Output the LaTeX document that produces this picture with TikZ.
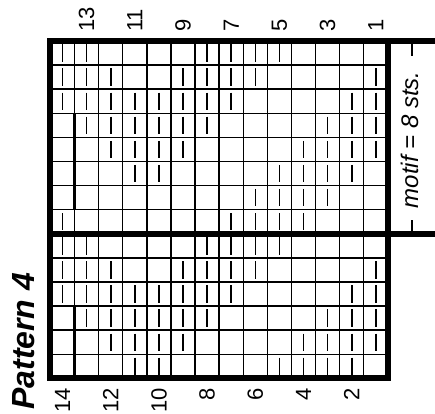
\documentclass[tikz,border=0pt]{standalone}
\usepackage{fontspec}
\setmainfont{Liberation Sans}

\begin{document}
\begin{tikzpicture}[x=24.1pt, y=-24.1pt,
  gridline/.style={draw=black, line width=1.4 },
  framebox/.style={draw=black, line width=6, line join=miter },
  heavyline/.style={draw=black, line width=5.5 },
  edgeline/.style={draw=black, line width=2.6 },
  purlmark/.style={draw=black, line width=1.6 },
  bracketline/.style={draw=black, line width=1.3 },
  toplabel/.style={rotate=90, anchor=west, inner sep=0, font=\fontsize{22}{26}\selectfont },
  bottomlabel/.style={rotate=90, anchor=east, inner sep=0, font=\fontsize{22}{26}\selectfont },
]
\path[use as bounding box] (-2.095,-1.701) rectangle (15.955,15.477);

%%%grid
\foreach \i in {1,...,13} { \draw[gridline] (\i,0) -- (\i,14); }
\foreach \j in {1,...,7,9,10,...,13} { \draw[gridline] (0,\j) -- (14,\j); }
\draw[edgeline] (1,3) -- (1,7);
\draw[edgeline] (1,11) -- (1,14);

%%%purl marks, 8 rows repeat
\foreach \r/\cols in {1/{1,2,7,8,9,10}, 2/{1,2,3,6,7,8,9,14},
    3/{1,2,3,4,5,6,7,8,13,14}, 4/{2,3,4,5,6,7,12,13,14},
    5/{3,4,5,6,11,12,13,14}, 6/{4,5,10,11,12,13},
    7/{9,10,11,12}, 8/{1,8,9,10,11}} {
  \foreach \c in \cols {
    \draw[purlmark] (\c-0.5,\r-0.86) -- (\c-0.5,\r-0.14);
    \ifnum\r<7
      \draw[purlmark] (\c-0.5,\r+7.14) -- (\c-0.5,\r+7.86);
    \fi
  }
}

%%%frame
\draw[framebox] (0,0) rectangle (14,14);
\draw[heavyline] (0,8) -- (15.96,8);
\draw[framebox] (14,0) -- (15.96,0);
\draw[bracketline] (15,0) -- (15,0.62);
\draw[bracketline] (15,7.43) -- (15,8);
%%%%%%%%%

%%%row numbers
\foreach \n [count=\i] in {13,11,...,1} {
  \node[toplabel] (top\n) at (2*\i-0.5,-0.38) {\n};
}
\foreach \n [count=\i] in {14,12,...,2} {
  \node[bottomlabel] (bot\n) at (2*\i-1.5,14.4) {\n};
}

\node[rotate=90, anchor=west, inner sep=0, font=\fontsize{32}{36}\selectfont\bfseries\itshape] (title) at (-1.12,15.31) {Pattern 4};
\node[rotate=90, inner sep=0, font=\fontsize{24}{28}\selectfont\itshape] (motif) at (14.9,4.1) {motif = 8 sts.};

\end{tikzpicture}
\end{document}
